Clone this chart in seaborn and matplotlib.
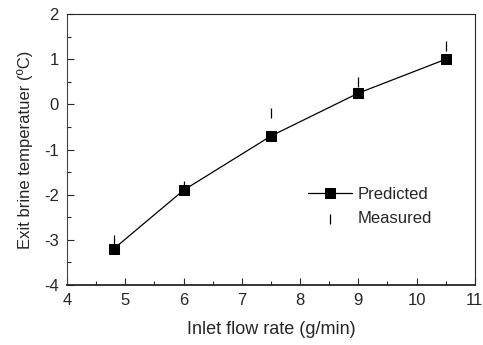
import numpy as np
import pandas as pd
import seaborn as sns
import matplotlib.pyplot as plt
from matplotlib.ticker import MultipleLocator

flow = [4.8, 6.0, 7.5, 9.0, 10.5]
predicted = [-3.2, -1.9, -0.7, 0.25, 1.0]
measured = [-3.0, -1.8, -0.2, 0.5, 1.3]

df = pd.DataFrame({'flow': flow, 'predicted': predicted, 'measured': measured})

sns.set_style('ticks')
plt.rcParams['font.family'] = ['Liberation Sans', 'DejaVu Sans']
plt.rcParams['axes.unicode_minus'] = False

fig, ax = plt.subplots(figsize=(4.83, 3.45), dpi=100)

sns.lineplot(data=df, x='flow', y='predicted', ax=ax, color='black', lw=0.9,
             marker='s', markersize=7.5, markeredgecolor='black', label='Predicted')
sns.scatterplot(data=df, x='flow', y='measured', ax=ax, marker='|', s=50,
                color='black', linewidth=0.9, label='Measured')

ax.set_xlim(4, 11)
ax.set_ylim(-4, 2)
ax.xaxis.set_major_locator(MultipleLocator(1))
ax.xaxis.set_minor_locator(MultipleLocator(0.5))
ax.yaxis.set_major_locator(MultipleLocator(1))
ax.yaxis.set_minor_locator(MultipleLocator(0.5))
ax.tick_params(which='both', direction='in', top=False, right=False, labelsize=12, pad=6)
ax.tick_params(which='major', length=5, width=0.8)
ax.tick_params(which='minor', length=3, width=0.8)
for s in ax.spines.values():
    s.set_linewidth(0.8)
ax.spines['left'].set_color('#444444')
ax.spines['bottom'].set_linewidth(1.3)

ax.set_xlabel('Inlet flow rate (g/min)', fontsize=13, labelpad=9)
ax.set_ylabel('Exit brine temperatuer (\u00baC)', fontsize=12, labelpad=8)

ax.legend(loc='center left', bbox_to_anchor=(0.59, 0.29), frameon=False, fontsize=12,
          handlelength=2.65, handletextpad=0.36, labelspacing=0.55,
          borderpad=0, borderaxespad=0)

fig.subplots_adjust(left=0.139, right=0.983, top=0.959, bottom=0.174)
fig.savefig('out.png', dpi=100)
